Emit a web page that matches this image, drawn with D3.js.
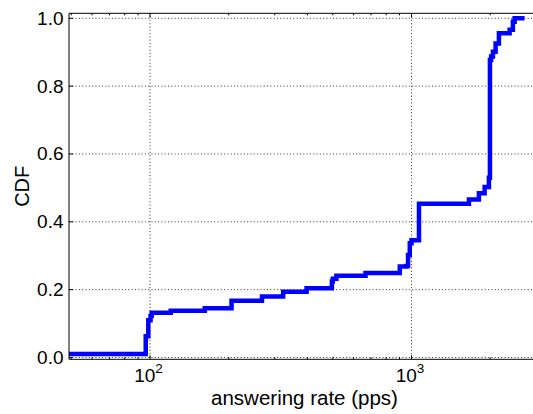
<!DOCTYPE html>
<html>
<head>
<meta charset="utf-8">
<script src="https://cdn.jsdelivr.net/npm/d3@7"></script>
<style>
  body { margin: 0; background: #fff; }
  text { font-family: "Liberation Sans", Arial, sans-serif; fill: #000; }
</style>
</head>
<body>
<svg id="cdfChart" width="533" height="414"></svg>
<script>
// step positions (pps) and the CDF value held from each position on
const rates = [49, 96.3, 98.5, 100.5, 101.5, 120, 162, 205, 268, 323, 397, 496, 500, 516, 667,
               902, 956, 970, 985, 1000, 1068, 1658, 1810, 1904, 1977, 1995, 2016, 2048, 2097,
               2159, 2372, 2442, 2479, 2529, 2629, 2652];
const cdfValues = [0.01, 0.063, 0.11, 0.122, 0.132, 0.138, 0.145, 0.167, 0.18, 0.194, 0.204, 0.224,
                   0.232, 0.241, 0.249, 0.268, 0.27, 0.302, 0.337, 0.346, 0.453, 0.466, 0.484,
                   0.503, 0.53, 0.877, 0.887, 0.901, 0.926, 0.956, 0.966, 0.99, 1.0, 1.0, 1.0, 1.0];
const yTicks = [0.0, 0.2, 0.4, 0.6, 0.8, 1.0];
const xMajorTicks = [100, 1000];
const xTickExponents = ["2", "3"];
const xMinorTicks = [50, 60, 70, 80, 90, 200, 300, 400, 500, 600, 700, 800, 900, 2000, 3000];

const svg = d3.select("#cdfChart");
const plotLeft = 69, plotRight = 540, plotTop = 13.3, plotBottom = 359.3;

const xScale = d3.scaleLog().domain([49, 3100]).range([plotLeft, plotRight]);
const yScale = d3.scaleLinear().domain([-0.0053, 1.0147]).range([plotBottom, plotTop]);

svg.append("defs").append("clipPath").attr("id", "plotClip")
   .append("rect")
   .attr("x", plotLeft).attr("y", plotTop)
   .attr("width", plotRight - plotLeft).attr("height", plotBottom - plotTop);

// dotted grid
const grid = svg.append("g").attr("id", "grid")
                .attr("stroke", "#000").attr("stroke-width", 1)
                .attr("stroke-dasharray", "1,2.3").attr("opacity", 0.8);
yTicks.forEach(t => {
    grid.append("line")
        .attr("x1", plotLeft).attr("x2", plotRight)
        .attr("y1", yScale(t)).attr("y2", yScale(t));
});
xMajorTicks.forEach(t => {
    grid.append("line")
        .attr("x1", xScale(t)).attr("x2", xScale(t))
        .attr("y1", plotTop).attr("y2", plotBottom);
});

// the CDF step line
const points = rates.map((r, i) => ({rate: r, cdf: cdfValues[i]}));
const lineGen = d3.line()
                  .x(d => xScale(d.rate))
                  .y(d => yScale(d.cdf))
                  .curve(d3.curveStepAfter);
svg.append("path")
   .attr("d", lineGen(points))
   .attr("clip-path", "url(#plotClip)")
   .attr("fill", "none")
   .attr("stroke", "#0000ff")
   .attr("stroke-width", 4.5)
   .attr("stroke-linejoin", "miter")
   .attr("stroke-linecap", "square");

// spines
const spines = svg.append("g").attr("stroke", "#000").attr("stroke-width", 1);
spines.append("line").attr("x1", plotLeft).attr("x2", plotLeft).attr("y1", plotTop).attr("y2", plotBottom);
spines.append("line").attr("x1", plotLeft).attr("x2", plotRight).attr("y1", plotBottom).attr("y2", plotBottom);
spines.append("line").attr("x1", plotLeft).attr("x2", plotRight).attr("y1", plotTop).attr("y2", plotTop);

// inward ticks, top and bottom for x, left for y
const ticks = svg.append("g").attr("stroke", "#000").attr("stroke-width", 1);
xMajorTicks.forEach(t => {
    ticks.append("line").attr("x1", xScale(t)).attr("x2", xScale(t)).attr("y1", plotBottom).attr("y2", plotBottom - 4);
    ticks.append("line").attr("x1", xScale(t)).attr("x2", xScale(t)).attr("y1", plotTop).attr("y2", plotTop + 4);
});
xMinorTicks.forEach(t => {
    ticks.append("line").attr("x1", xScale(t)).attr("x2", xScale(t)).attr("y1", plotBottom).attr("y2", plotBottom - 2);
    ticks.append("line").attr("x1", xScale(t)).attr("x2", xScale(t)).attr("y1", plotTop).attr("y2", plotTop + 2);
});
yTicks.forEach(t => {
    ticks.append("line").attr("x1", plotLeft).attr("x2", plotLeft + 4).attr("y1", yScale(t)).attr("y2", yScale(t));
});

// tick labels
yTicks.forEach(t => {
    svg.append("text")
       .attr("x", plotLeft - 5.5)
       .attr("y", yScale(t))
       .attr("text-anchor", "end")
       .attr("dominant-baseline", "central")
       .style("font-size", "19px")
       .text(d3.format(".1f")(t));
});
xMajorTicks.forEach((t, i) => {
    const label = svg.append("text")
                     .attr("x", xScale(t) - 1.5)
                     .attr("y", 381.7)
                     .attr("text-anchor", "middle")
                     .style("font-size", "19px");
    label.append("tspan").text("10");
    label.append("tspan").attr("dy", -9).style("font-size", "13.5px").text(xTickExponents[i]);
});

// axis labels
svg.append("text")
   .attr("x", (plotLeft + plotRight) / 2)
   .attr("y", 404.5)
   .attr("text-anchor", "middle")
   .style("font-size", "20.5px")
   .text("answering rate (pps)");
svg.append("text")
   .attr("transform", `translate(28.5,${(plotTop + plotBottom) / 2}) rotate(-90)`)
   .attr("text-anchor", "middle")
   .style("font-size", "20px")
   .text("CDF");
</script>
</body>
</html>
